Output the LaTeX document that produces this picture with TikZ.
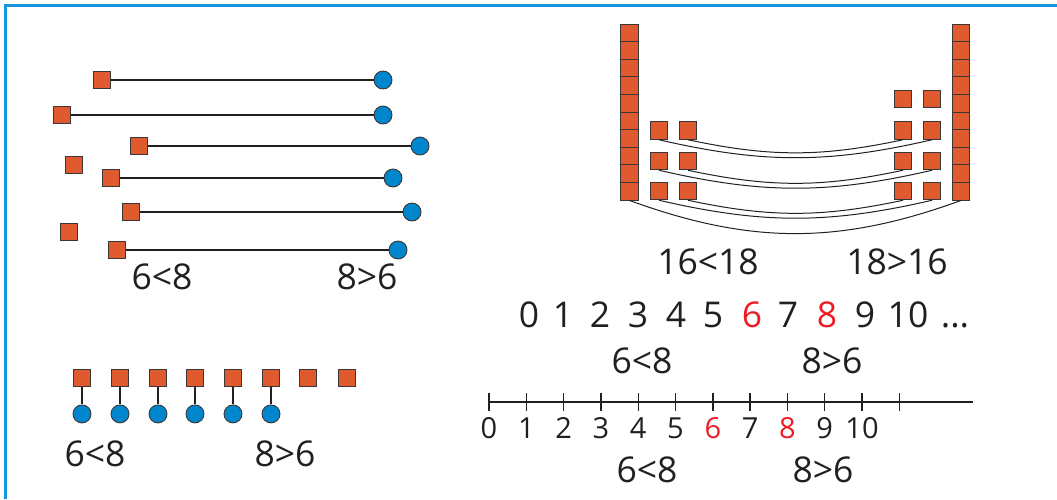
\documentclass[tikz,border=0pt]{standalone}
\usepackage{fontspec}
\setmainfont{Open Sans}
\usetikzlibrary{positioning}
\definecolor{brick}{RGB}{224, 90, 48}
\definecolor{sky}{RGB}{0, 134, 205}
\definecolor{frameblue}{RGB}{20, 150, 220}
\definecolor{hilite}{RGB}{237, 28, 36}
\definecolor{ink}{RGB}{35, 31, 32}
\definecolor{edge}{RGB}{60, 55, 55}
\tikzset{
    unit/.style={rectangle, draw=edge, fill=brick, line width=0.9pt, minimum size=17.6pt, inner sep=0pt},
    bead/.style={circle, draw=edge, fill=sky, line width=0.9pt, minimum size=18pt, inner sep=0pt},
    tie/.style={line width=1.5pt, ink},
    bow/.style={line width=1pt, ink},
    axis/.style={line width=1.4pt, ink},
    cmp/.style={anchor=base, text=ink, font=\fontsize{35.5}{40}\selectfont, inner sep=0pt},
    digit/.style={anchor=base, text=ink, font=\fontsize{29}{34}\selectfont, inner sep=0pt}
}

\begin{document}
\begin{tikzpicture}[x=1pt, y=1pt]
    \useasboundingbox (0,0) rectangle (1057,-499);
    \draw[frameblue, line width=2.7pt] (5.5,-499) -- (5.5,-5.3) -- (1057,-5.3);

    % pairs joined by a line
    \node[unit] (sqa) at (102,-80) {};   \node[bead] (dota) at (383,-80) {};
    \node[unit] (sqb) at (62,-115) {};   \node[bead] (dotb) at (383,-115) {};
    \node[unit] (sqc) at (139,-146) {};  \node[bead] (dotc) at (420,-146) {};
    \node[unit] (sqx) at (74,-165) {};
    \node[unit] (sqd) at (111,-178) {};  \node[bead] (dotd) at (393,-178) {};
    \node[unit] (sqe) at (131,-212) {};  \node[bead] (dote) at (412,-212) {};
    \node[unit] (sqy) at (69,-232) {};
    \node[unit] (sqf) at (117,-250) {};  \node[bead] (dotf) at (398,-250) {};
    \draw[tie] (sqa) -- (dota); \draw[tie] (sqb) -- (dotb); \draw[tie] (sqc) -- (dotc);
    \draw[tie] (sqd) -- (dotd); \draw[tie] (sqe) -- (dote); \draw[tie] (sqf) -- (dotf);
    \node[cmp] (tlless) at (162,-289) {6<8};
    \node[cmp] (tlmore) at (367,-289) {8>6};

    % squares over beads
    \foreach \n/\x in {1/82, 2/120, 3/158, 4/195, 5/233, 6/271, 7/308, 8/347}
        \node[unit] (bsq\n) at (\x,-378) {};
    \foreach \n in {1,...,6} {
        \node[bead, below=17.2pt of bsq\n] (bdot\n) {};
        \draw[tie] (bsq\n) -- (bdot\n);
    }
    \node[cmp] (blless) at (95,-466) {6<8};
    \node[cmp] (blmore) at (285,-466) {8>6};

    % towers of 16 and 18
    \foreach \k in {0,...,9} {
        \node[unit] (cl\k) at (629.5,{-191.2+17.6*\k}) {};
        \node[unit] (cr\k) at (961,{-191.2+17.6*\k}) {};
    }
    \foreach \r/\y in {1/-130.5, 2/-161, 3/-191} {
        \node[unit] (la\r) at (659,\y) {};  \node[unit] (lb\r) at (688,\y) {};
        \node[unit] (ra\r) at (903,\y) {};  \node[unit] (rb\r) at (932,\y) {};
        \draw[bow] (la\r.south) to[bend right=13] (rb\r.south);
        \draw[bow] (lb\r.south) to[bend right=12] (ra\r.south);
    }
    \node[unit] (ra0) at (903,-99) {};  \node[unit] (rb0) at (932,-99) {};
    \draw[bow] (cl0.south) to[bend right=20] (cr0.south);
    \node[cmp] (trless) at (708,-274) {16<18};
    \node[cmp] (trmore) at (897,-274) {18>16};

    % counting row
    \foreach \n/\x/\c in {0/529/ink, 1/563/ink, 2/600/ink, 3/638/ink, 4/676/ink, 5/713/ink,
                          6/752/hilite, 7/788/ink, 8/827/hilite, 9/865/ink, 10/908/ink}
        \node[cmp, text=\c] (cnt\n) at (\x,-327) {\n};
    \node[cmp] (cntdots) at (955,-327) {...};
    \node[cmp] (mrless) at (642,-373) {6<8};
    \node[cmp] (mrmore) at (832,-373) {8>6};

    % number line
    \coordinate (lineend) at (973,-402);
    \foreach \k in {0,...,11}
        \coordinate (tk\k) at ({489+37.3*\k},-402);
    \draw[axis] (tk0) -- (lineend);
    \foreach \k in {0,...,11}
        \draw[axis] (tk\k) ++(0,9) -- ++(0,-18);
    \foreach \n/\c in {0/ink, 1/ink, 2/ink, 3/ink, 4/ink, 5/ink, 6/hilite, 7/ink, 8/hilite, 9/ink, 10/ink}
        \node[digit, text=\c] (lab\n) at ({489+37.3*\n},-438) {\n};
    \node[cmp] (brless) at (647,-482) {6<8};
    \node[cmp] (brmore) at (823,-482) {8>6};
\end{tikzpicture}
\end{document}
